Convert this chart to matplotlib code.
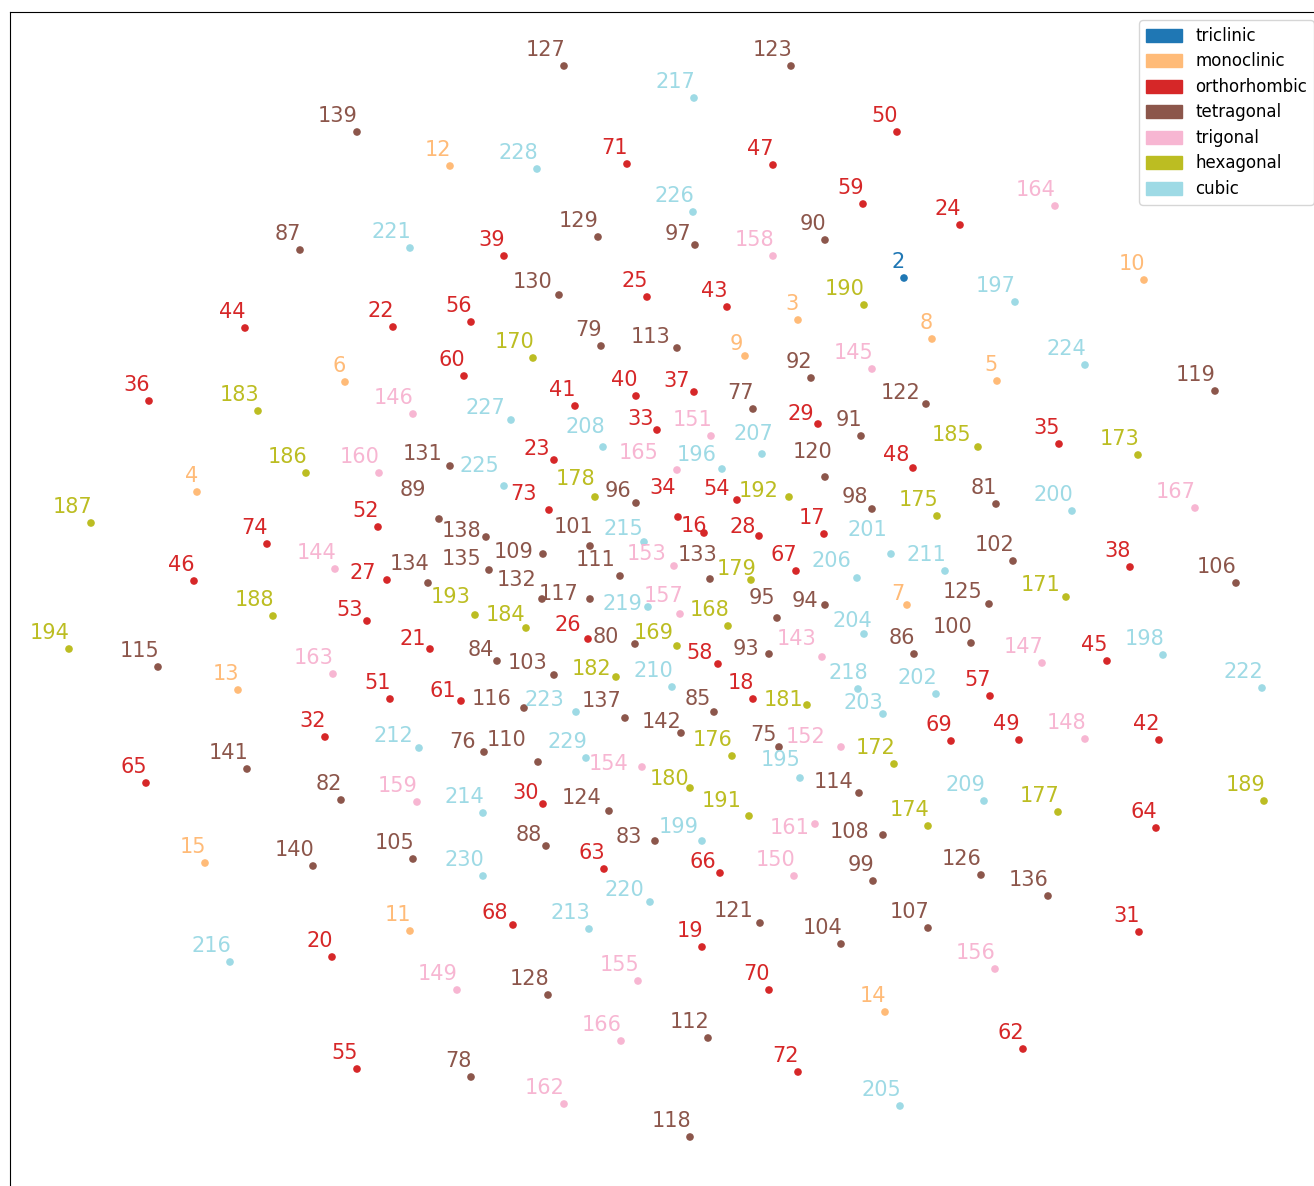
import matplotlib
matplotlib.use("Agg")
import matplotlib.pyplot as plt
from matplotlib.patches import Patch
import numpy as np

# space groups 2..230, embedding coordinates
sg = list(range(2, 231))
x = [904, 798, 197, 997, 345, 907, 932, 745, 1144, 410, 450, 238, 885, 205,
     704, 824, 753, 702, 332, 430, 393, 554, 960, 647, 588, 387, 759, 818, 543,
     1139, 325, 657, 678, 1059, 149, 694, 1130, 504, 636, 575, 1159, 727, 245,
     1107, 194, 773, 913, 1019, 897, 390, 378, 367, 737, 357, 471, 990, 718,
     863, 464, 461, 1023, 604, 1156, 146, 720, 796, 513, 951, 769, 627, 798,
     549, 267,
     779, 484, 753, 471, 601, 635, 996, 341, 655, 497, 714, 914, 300, 546, 439,
     825, 861, 811, 769, 825, 777, 636, 695, 872, 873, 971, 590, 1013, 554, 841,
     413, 1236, 928, 883, 543, 538, 620, 708, 677, 859, 158, 524, 590, 690,
     1215, 825, 760, 926, 791, 609, 989, 981, 564, 548, 598, 559, 450, 542, 710,
     428, 489, 1048, 625, 486, 357, 313, 247, 681,
     822, 335, 872, 413, 1042, 1085, 457, 794, 711, 841, 674, 642, 638, 995,
     680, 773, 417, 379, 815, 564, 333, 1055, 677, 621, 1195,
     728, 677, 533, 1066, 894, 1138, 928, 937, 732, 1058, 595, 751, 690, 807,
     616, 258, 526, 978, 306, 91, 273, 1264, 864, 749, 789, 475, 69,
     800, 722, 1015, 1163, 702, 1072, 891, 936, 883, 864, 900, 857, 762, 603,
     984, 672, 945, 419, 589, 483, 644, 230, 694, 858, 648, 650, 410, 1262, 576,
     1085, 504, 693, 511, 537, 586, 483]
y = [278, 320, 492, 381, 382, 605, 339, 356, 280, 931, 166, 690, 1012, 863,
     533, 534, 699, 947, 957, 649, 327, 460, 225, 297, 639, 580, 536, 424, 804,
     932, 737, 430, 517, 444, 401, 392, 567, 256, 396, 406, 740, 307, 328,
     661, 581, 165, 468, 740, 132, 699, 527, 621, 500, 1069, 322, 696, 664,
     204, 376, 701, 1049, 869, 828, 783, 873, 571, 925, 741, 990, 164, 1072,
     510, 544,
     747, 752, 409, 1077, 346, 644, 504, 800, 841, 661, 712, 654, 250, 846, 519,
     240, 436, 378, 654, 605, 618, 503, 245, 509, 881, 643, 546, 561, 675, 944,
     859, 583, 928, 835, 554, 762, 576, 1038, 348, 793, 667, 708, 599, 1137,
     391, 477, 923, 404, 66, 811, 604, 875, 66, 995, 237, 295, 466, 599, 579,
     583, 570, 896, 718, 537, 132, 866, 769, 733,
     657, 569, 369, 414, 663, 739, 990, 876, 436, 747, 566, 767, 981, 969,
     614, 256, 802, 473, 824, 1104, 674, 206, 470, 1041, 508,
     626, 646, 358, 597, 764, 455, 826, 516, 756, 812, 497, 580, 788, 705,
     677, 411, 628, 447, 473, 523, 616, 801, 305, 816, 497, 615, 649,
     778, 469, 302, 655, 841, 511, 554, 694, 714, 634, 1106, 578, 454, 447,
     801, 687, 571, 748, 929, 813, 542, 962, 98, 689, 607, 902, 248, 688, 712,
     365, 486, 212, 420, 169, 758, 876]

systems = ["triclinic", "monoclinic", "orthorhombic", "tetragonal",
           "trigonal", "hexagonal", "cubic"]
first_sg = [1, 3, 16, 75, 143, 168, 195]

# labels that were pushed off their default spot (centre of the text)
moved = {
    97: (678, 232), 130: (533, 280), 113: (651, 335), 9: (736, 342),
    37: (677, 379), 122: (901, 391), 131: (423, 452), 89: (413, 488),
    27: (363, 571), 134: (410, 562), 53: (350, 608), 21: (413, 637),
    61: (443, 689), 212: (393, 734), 227: (485, 406), 208: (585, 425),
    33: (641, 417), 29: (801, 412), 207: (753, 432), 23: (537, 447),
    165: (639, 451), 196: (697, 453), 120: (813, 450), 225: (479, 464),
    73: (523, 492), 178: (576, 477), 96: (618, 489), 34: (663, 486),
    54: (717, 487), 192: (759, 489), 98: (855, 495), 138: (462, 529),
    101: (574, 525), 215: (623, 527), 16: (694, 524), 28: (743, 525),
    201: (867, 528), 109: (514, 550), 135: (462, 557), 111: (596, 558),
    153: (647, 552), 133: (698, 553), 206: (831, 559), 132: (517, 578),
    179: (737, 567), 193: (451, 595), 117: (559, 592), 219: (622, 602),
    157: (664, 594), 95: (762, 596), 94: (805, 599), 184: (505, 613),
    204: (852, 619), 26: (568, 623), 80: (606, 635), 169: (654, 631),
    58: (700, 651), 93: (746, 647), 143: (797, 637), 84: (481, 648),
    103: (528, 661), 182: (592, 667), 218: (848, 671), 181: (783, 698),
    203: (863, 701), 116: (492, 697), 223: (544, 698), 137: (602, 699),
    85: (698, 697), 142: (662, 720), 75: (763, 733), 152: (806, 735),
    76: (463, 740), 110: (507, 738), 195: (781, 758), 154: (609, 762),
    180: (669, 777), 114: (834, 780), 185: (952, 433), 48: (896, 453),
    7: (898, 592), 125: (963, 590), 171: (1041, 583), 108: (850, 830),
    30: (526, 791), 124: (582, 796), 191: (722, 799), 161: (790, 826),
    88: (529, 833), 83: (629, 835), 199: (679, 825), 66: (703, 860),
    220: (624, 888), 68: (495, 911), 121: (734, 909),
}

cmap = plt.get_cmap("tab20")
sys_colors = [cmap(i / 6) for i in range(7)]

def system_of(n):
    return np.searchsorted(first_sg, n, side="right") - 1

fig = plt.figure(figsize=(13.14, 11.86), dpi=100)
ax = fig.add_axes([10 / 1314, -10 / 1186, 1312 / 1314, 1184 / 1186])
ax.set_xlim(10, 1322)
ax.set_ylim(1196, 12)
ax.set_xticks([])
ax.set_yticks([])

cols = [sys_colors[system_of(n)] for n in sg]
ax.scatter(x, y, s=20, c=cols, zorder=3)

for n, xi, yi, c in zip(sg, x, y, cols):
    if n in moved:
        cx, cy = moved[n]
        ax.text(cx, cy + 7.6, str(n), color=c, fontsize=15,
                ha="center", va="baseline")
    else:
        ax.annotate(str(n), (xi, yi), xytext=(1, 10.4),
                    textcoords="offset pixels", color=c, fontsize=15,
                    ha="right", va="baseline")

handles = [Patch(color=c, label=s) for s, c in zip(systems, sys_colors)]
ax.legend(handles=handles, loc="upper right", fontsize=12,
          handlelength=2.15, handleheight=0.8, labelspacing=0.45)

fig.savefig("out.png", dpi=100)
